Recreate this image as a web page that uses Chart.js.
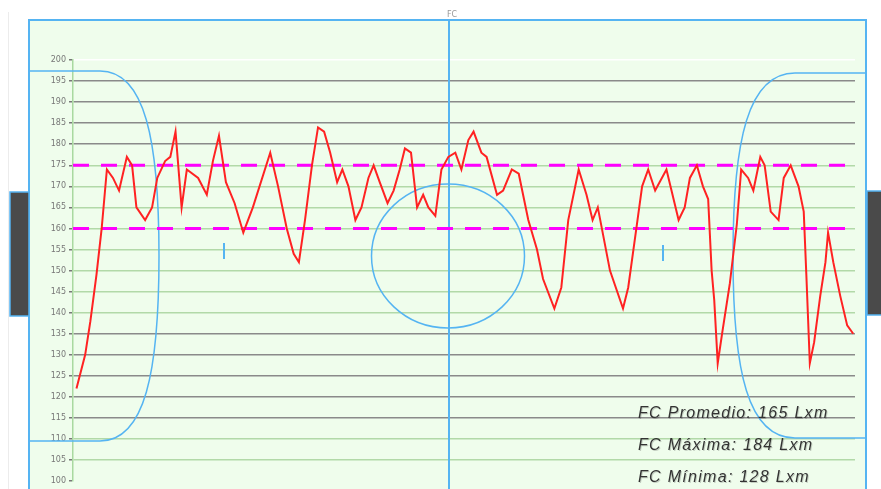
<!DOCTYPE html>
<html>
<head>
<meta charset="utf-8">
<script src="https://cdn.jsdelivr.net/npm/chart.js@4/dist/chart.umd.min.js"></script>
<style>
  html, body { margin: 0; padding: 0; background: #fff; }
  #wrap { width: 881px; height: 489px; position: relative; }
</style>
</head>
<body>
<div id="wrap"><canvas id="fcChart" width="881" height="489"></canvas></div>
<script>
// minutos de juego (eje x) y frecuencia cardiaca
const minutos = [0.4, 1.4, 2.0, 2.7, 3.3, 3.9, 4.6, 5.3, 6.2, 6.8, 7.3, 8.3, 9.1, 9.7, 10.6, 11.2, 11.8, 12.5, 13.1, 14.4,
  15.4, 16.1, 16.8, 17.6, 18.6, 19.6, 20.7, 22.7, 23.6, 24.6, 25.4, 26.0, 26.7, 27.5, 28.2, 28.9, 29.6, 30.4, 31.0, 31.7,
  32.5, 33.2, 34.0, 34.6, 35.3, 36.2, 36.9, 37.6, 38.2, 38.9, 39.6, 40.3, 40.9, 41.7, 42.4, 43.2, 44.0, 44.7, 45.5, 46.1,
  47.0, 47.6, 48.8, 49.5, 50.5, 51.3, 52.4, 53.4, 54.1, 55.4, 56.2, 57.0, 58.2, 59.1, 59.8, 60.4, 61.8, 63.3, 63.9, 64.9,
  65.5, 66.2, 67.0, 68.3, 69.7, 70.4, 71.0, 71.8, 72.5, 73.1, 73.5, 73.8, 74.2, 74.7, 75.6, 76.4, 76.9, 77.7, 78.3, 78.7,
  79.1, 79.6, 80.3, 81.2, 81.8, 82.6, 83.5, 84.1, 84.4, 84.8, 85.3, 86.0, 86.6, 86.9, 87.5, 88.3, 89.1, 89.8];
const fc = [122, 130, 138, 149, 160, 174, 172, 169, 177, 175, 165, 162, 165, 172, 176, 177, 183, 165, 174, 172,
  168, 176, 182, 171, 166, 159, 165, 178, 170, 160, 154, 152, 162, 175, 184, 183, 178, 171, 174, 170,
  162, 165, 172, 175, 171, 166, 169, 174, 179, 178, 165, 168, 165, 163, 174, 177, 178, 174, 181, 183,
  178, 177, 168, 169, 174, 173, 162, 155, 148, 141, 146, 162, 174, 168, 162, 165, 150, 141, 146, 161,
  170, 174, 169, 174, 162, 165, 172, 175, 170, 167, 150, 143, 128, 135, 147, 161, 174, 172, 169, 173,
  177, 175, 164, 162, 172, 175, 170, 164, 149, 128, 133, 144, 152, 159, 152, 144, 137, 135];

const zonaAlta = 175;
const zonaBaja = 160;
const resumen = ['FC Promedio: 165 Lxm', 'FC Máxima: 184 Lxm', 'FC Mínima: 128 Lxm'];

// dibujo de la cancha de fondo
const cancha = {
  id: 'cancha',
  beforeDraw(chart) {
    const c = chart.ctx;
    const H = chart.height;
    c.save();
    c.fillStyle = '#fff';
    c.fillRect(0, 0, chart.width, H);
    c.fillStyle = '#effdec';
    c.fillRect(29, 20, 837, H - 20);
    c.strokeStyle = '#ececec';
    c.lineWidth = 1;
    c.beginPath(); c.moveTo(8.5, 12); c.lineTo(8.5, H); c.stroke();
    c.restore();
  },
  beforeDatasetsDraw(chart) {
    const c = chart.ctx;
    const H = chart.height;
    c.save();
    c.strokeStyle = '#55b4f2';
    c.lineWidth = 2;
    // borde
    c.beginPath();
    c.moveTo(29, H); c.lineTo(29, 20); c.lineTo(866, 20); c.lineTo(866, H);
    c.stroke();
    // linea central
    c.beginPath(); c.moveTo(449, 20); c.lineTo(449, H); c.stroke();
    // circulo central
    c.lineWidth = 1.5;
    c.beginPath(); c.ellipse(448, 256, 76.5, 72, 0, 0, Math.PI * 2); c.stroke();
    // areas
    c.beginPath();
    c.moveTo(29, 71); c.lineTo(100, 71);
    c.bezierCurveTo(145, 71, 159, 140, 159, 256);
    c.bezierCurveTo(159, 372, 145, 441, 100, 441);
    c.lineTo(29, 441);
    c.stroke();
    c.beginPath();
    c.moveTo(866, 73); c.lineTo(795, 73);
    c.bezierCurveTo(748, 73, 733, 140, 733, 256);
    c.bezierCurveTo(733, 372, 748, 438, 795, 438);
    c.lineTo(866, 438);
    c.stroke();
    // puntos penales
    c.lineWidth = 2;
    c.beginPath(); c.moveTo(224, 243); c.lineTo(224, 259); c.stroke();
    c.beginPath(); c.moveTo(663, 245); c.lineTo(663, 261); c.stroke();
    // arcos
    c.fillStyle = '#4a4a4a';
    c.fillRect(10, 192, 19, 124);
    c.fillRect(867, 191, 14, 124);
    c.lineWidth = 1.5;
    c.strokeRect(10, 192, 19, 124);
    c.strokeRect(867, 191, 16, 124);
    c.restore();
  },
  afterDraw(chart) {
    const c = chart.ctx;
    c.save();
    c.fillStyle = '#999';
    c.font = '8px "DejaVu Sans"';
    c.textAlign = 'center';
    c.fillText('FC', 452, 17);
    c.font = 'italic 16px "Liberation Sans"';
    c.letterSpacing = '1.3px';
    c.textAlign = 'left';
    resumen.forEach((t, i) => {
      c.fillStyle = 'rgba(0,0,0,0.18)';
      c.fillText(t, 639, 419 + i * 32);
      c.fillStyle = '#333';
      c.fillText(t, 638, 418 + i * 32);
    });
    c.restore();
  }
};

const gris = [115, 120, 125, 130, 135, 180, 185, 190, 195];

new Chart(document.getElementById('fcChart'), {
  type: 'line',
  data: {
    datasets: [{
      label: 'FC',
      data: minutos.map((m, i) => ({ x: m, y: fc[i] })),
      borderColor: '#ff2222',
      borderWidth: 2,
      pointRadius: 0,
      tension: 0
    }, {
      label: 'Zona alta',
      data: [{ x: 0, y: zonaAlta }, { x: 90, y: zonaAlta }],
      borderColor: '#ff00ff',
      borderWidth: 3,
      borderDash: [16, 12],
      pointRadius: 0
    }, {
      label: 'Zona baja',
      data: [{ x: 0, y: zonaBaja }, { x: 90, y: zonaBaja }],
      borderColor: '#ff00ff',
      borderWidth: 3,
      borderDash: [16, 12],
      pointRadius: 0
    }]
  },
  options: {
    responsive: false,
    animation: false,
    layout: { padding: { left: 0, right: 26, top: 60, bottom: 4 } },
    plugins: { legend: { display: false }, tooltip: { enabled: false } },
    scales: {
      x: { type: 'linear', min: 0, max: 90, display: false },
      y: {
        min: 100, max: 200,
        afterFit(scale) { scale.width = 73; },
        ticks: { stepSize: 5, color: '#777', padding: 3, font: { family: 'DejaVu Sans', size: 8 } },
        grid: {
          lineWidth: 1.5,
          tickLength: 4,
          tickColor: '#777',
          color: (ctx) => {
            const v = ctx.tick ? ctx.tick.value : 0;
            if (v === 200) return '#ffffff';
            if (v === 100) return 'rgba(0,0,0,0)';
            return gris.includes(v) ? '#8a8a8a' : '#b2d9a8';
          }
        },
        border: { color: '#a9d9a0', width: 1.5 }
      }
    }
  },
  plugins: [cancha]
});
</script>
</body>
</html>
